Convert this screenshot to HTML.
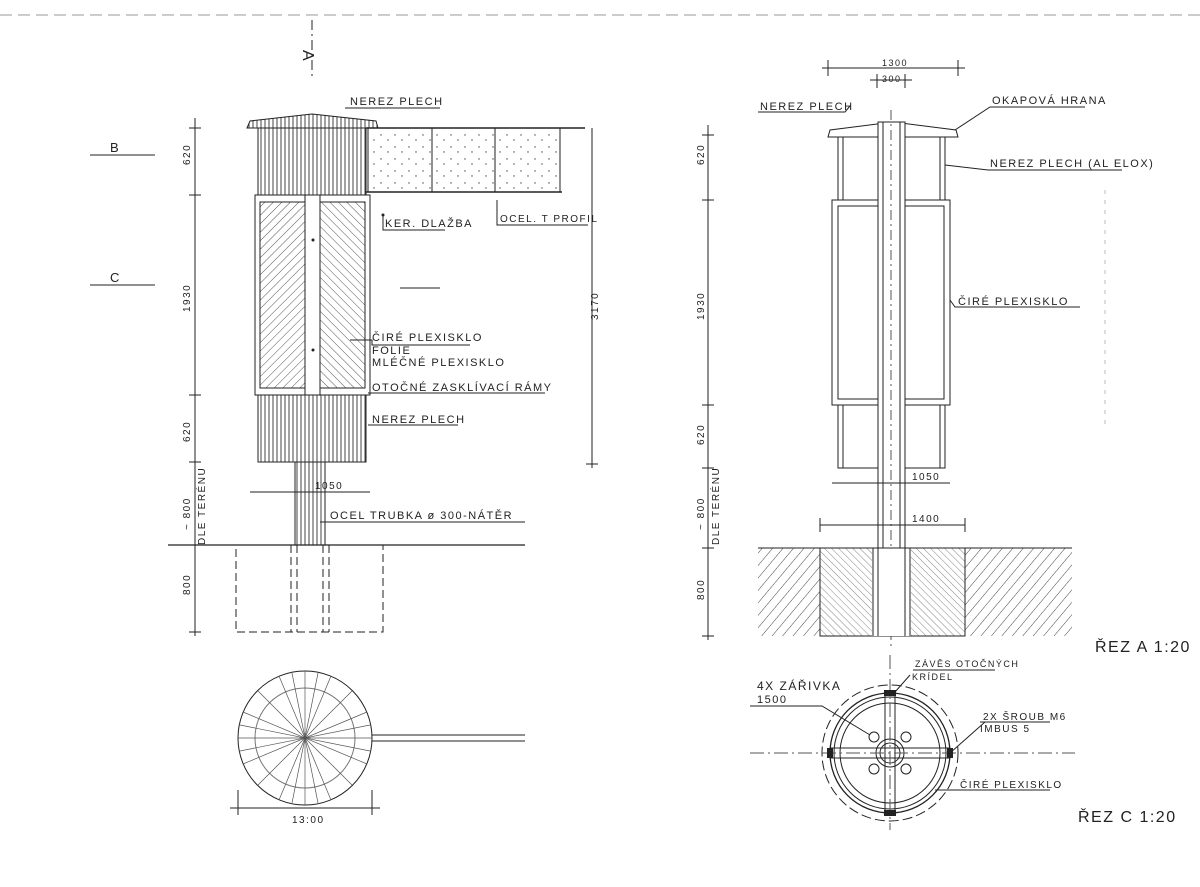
<!DOCTYPE html>
<html><head><meta charset="utf-8"><style>
html,body{margin:0;padding:0;background:#fff;}
svg{display:block;font-size:11px;}
text{font-family:"Liberation Sans",sans-serif;fill:#222;letter-spacing:1.5px;}
</style></head><body>
<svg width="1200" height="887" viewBox="0 0 1200 887" xmlns="http://www.w3.org/2000/svg">
<defs>
<pattern id="vert" width="4" height="10" patternUnits="userSpaceOnUse"><rect width="4" height="10" fill="#fff"/><line x1="1" y1="0" x2="1" y2="10" stroke="#444" stroke-width="1"/></pattern>
<pattern id="diag1" width="6" height="6" patternUnits="userSpaceOnUse" patternTransform="rotate(45)"><rect width="6" height="6" fill="#fff"/><line x1="0" y1="0" x2="0" y2="6" stroke="#555" stroke-width="1"/></pattern>
<pattern id="diag2" width="6" height="6" patternUnits="userSpaceOnUse" patternTransform="rotate(-45)"><rect width="6" height="6" fill="#fff"/><line x1="0" y1="0" x2="0" y2="6" stroke="#555" stroke-width="1"/></pattern>
<pattern id="soil" width="8" height="8" patternUnits="userSpaceOnUse" patternTransform="rotate(40)"><rect width="8" height="8" fill="#fff"/><line x1="0" y1="0" x2="0" y2="8" stroke="#444" stroke-width="1"/></pattern>
<pattern id="conc" width="5" height="5" patternUnits="userSpaceOnUse" patternTransform="rotate(-45)"><rect width="5" height="5" fill="#fff"/><line x1="0" y1="0" x2="0" y2="5" stroke="#666" stroke-width="0.8"/></pattern>
<pattern id="dots" width="14" height="12" patternUnits="userSpaceOnUse"><rect width="14" height="12" fill="#fff"/><circle cx="3" cy="3" r="0.7" fill="#444"/><circle cx="10" cy="8" r="0.7" fill="#444"/></pattern>
</defs>
<g stroke="#222" fill="none" stroke-width="1">
<line x1="0" y1="15" x2="1200" y2="15" stroke="#999" stroke-dasharray="12,6"/>
<line x1="312" y1="20" x2="312" y2="80" stroke-dasharray="10,4,2,4"/>

<path d="M247 128 L250 121 L312 114 L376 121 L378 128 Z" fill="url(#vert)"/>
<rect x="258" y="128" width="108" height="67" fill="url(#vert)"/>
<rect x="255" y="195" width="115" height="200" fill="#fff"/>
<rect x="260" y="202" width="45" height="186" fill="url(#diag1)"/>
<rect x="320" y="202" width="45" height="186" fill="url(#diag2)"/>
<line x1="305" y1="195" x2="305" y2="395"/><line x1="320" y1="195" x2="320" y2="395"/>
<rect x="258" y="395" width="108" height="67" fill="url(#vert)"/>
<rect x="295" y="462" width="30" height="83" fill="url(#vert)"/>
<rect x="368" y="128" width="192" height="64" fill="url(#dots)"/>
<line x1="432" y1="128" x2="432" y2="192"/><line x1="495" y1="128" x2="495" y2="192"/>
<line x1="366" y1="128" x2="585" y2="128" stroke-width="1.5"/>
<line x1="366" y1="192" x2="562" y2="192" stroke-width="1.5"/>
<line x1="168" y1="545" x2="525" y2="545" stroke-width="1.2"/>
<rect x="236" y="545" width="147" height="87" stroke-dasharray="8,4"/>
<line x1="291" y1="545" x2="291" y2="632" stroke-dasharray="8,4"/><line x1="329" y1="545" x2="329" y2="632" stroke-dasharray="8,4"/>
<line x1="297" y1="545" x2="297" y2="632" stroke-dasharray="8,4"/><line x1="323" y1="545" x2="323" y2="632" stroke-dasharray="8,4"/>
<line x1="195" y1="118" x2="195" y2="636"/>
<g><line x1="189" y1="128" x2="201" y2="128"/><line x1="189" y1="195" x2="201" y2="195"/><line x1="189" y1="395" x2="201" y2="395"/><line x1="189" y1="462" x2="201" y2="462"/><line x1="189" y1="545" x2="201" y2="545"/><line x1="189" y1="632" x2="201" y2="632"/></g>
<line x1="592" y1="128" x2="592" y2="468"/><line x1="586" y1="464" x2="598" y2="464"/>
<line x1="90" y1="155" x2="155" y2="155"/><line x1="90" y1="285" x2="155" y2="285"/>
<line x1="400" y1="288" x2="440" y2="288"/>
<line x1="250" y1="492" x2="370" y2="492"/>
<path d="M345 108 L440 108"/><path d="M383 215 L383 230 L445 230"/><path d="M497 200 L497 225 L588 225"/>
<path d="M350 340 L372 340 L372 345 L470 345"/><path d="M368 393 L545 393"/><path d="M368 425 L458 425"/><path d="M320 522 L525 522"/>
<circle cx="305" cy="738" r="67" fill="#fff"/>
<circle cx="305" cy="738" r="50" stroke="#777"/>
<g stroke="#555" stroke-width="0.7">
<line x1="238" y1="738" x2="372" y2="738"/><line x1="305" y1="671" x2="305" y2="805"/>
<line x1="258" y1="691" x2="352" y2="785"/><line x1="352" y1="691" x2="258" y2="785"/>
<line x1="243" y1="712" x2="367" y2="764"/><line x1="243" y1="764" x2="367" y2="712"/>
<line x1="279" y1="676" x2="331" y2="800"/><line x1="331" y1="676" x2="279" y2="800"/>
<line x1="240" y1="725" x2="370" y2="751"/><line x1="240" y1="751" x2="370" y2="725"/>
<line x1="292" y1="673" x2="318" y2="803"/><line x1="318" y1="673" x2="292" y2="803"/>
</g>
<line x1="372" y1="735" x2="525" y2="735"/><line x1="372" y1="741" x2="525" y2="741"/>
<line x1="230" y1="808" x2="380" y2="808"/><line x1="238" y1="790" x2="238" y2="815"/><line x1="372" y1="790" x2="372" y2="815"/>

<path d="M828 137 L830 130 L893 122 L956 130 L958 137 Z" fill="#fff"/>
<rect x="838" y="137" width="107" height="63"/>
<rect x="843" y="137" width="97" height="63"/>
<rect x="832" y="200" width="118" height="205"/>
<rect x="838" y="206" width="106" height="193"/>
<rect x="838" y="405" width="107" height="63"/>
<rect x="843" y="405" width="97" height="63"/>
<rect x="878" y="122" width="27" height="514" fill="#fff"/>
<line x1="883" y1="122" x2="883" y2="636"/><line x1="900" y1="122" x2="900" y2="636"/>
<line x1="891" y1="110" x2="891" y2="650" stroke-dasharray="10,4,2,4" stroke="#555"/>
<rect x="758" y="548" width="314" height="88" fill="url(#soil)" stroke="none"/>
<rect x="820" y="548" width="145" height="88" fill="url(#conc)"/>
<rect x="872" y="548" width="39" height="88" fill="#fff" stroke="none"/>
<line x1="873" y1="548" x2="873" y2="636"/><line x1="910" y1="548" x2="910" y2="636"/>
<line x1="878" y1="548" x2="878" y2="636"/><line x1="905" y1="548" x2="905" y2="636"/>
<line x1="758" y1="548" x2="1072" y2="548"/>
<line x1="708" y1="125" x2="708" y2="640"/>
<g><line x1="702" y1="135" x2="714" y2="135"/><line x1="702" y1="200" x2="714" y2="200"/><line x1="702" y1="405" x2="714" y2="405"/><line x1="702" y1="468" x2="714" y2="468"/><line x1="702" y1="548" x2="714" y2="548"/><line x1="702" y1="636" x2="714" y2="636"/></g>
<line x1="822" y1="68" x2="965" y2="68"/><line x1="828" y1="60" x2="828" y2="76"/><line x1="958" y1="60" x2="958" y2="76"/>
<line x1="870" y1="80" x2="912" y2="80"/><line x1="877" y1="74" x2="877" y2="88"/><line x1="905" y1="74" x2="905" y2="88"/>
<line x1="832" y1="483" x2="950" y2="483"/><line x1="820" y1="525" x2="965" y2="525"/>
<line x1="820" y1="518" x2="820" y2="532"/><line x1="965" y1="518" x2="965" y2="532"/>
<path d="M758 112 L845 112 L850 106"/><path d="M955 130 L990 107 L1085 107"/><path d="M945 165 L988 170 L1122 170"/><path d="M950 300 L955 307 L1080 307"/>
<line x1="1105" y1="190" x2="1105" y2="430" stroke-dasharray="4,6" stroke="#bbb"/>
<circle cx="890" cy="753" r="68" stroke-dasharray="10,4"/>
<circle cx="890" cy="753" r="60" stroke-width="1.3"/>
<circle cx="890" cy="753" r="56"/>
<circle cx="890" cy="753" r="50"/>
<circle cx="890" cy="753" r="14"/><circle cx="890" cy="753" r="10"/>
<circle cx="874" cy="737" r="5"/><circle cx="906" cy="737" r="5"/><circle cx="874" cy="769" r="5"/><circle cx="906" cy="769" r="5"/>
<line x1="885" y1="693" x2="885" y2="813"/><line x1="895" y1="693" x2="895" y2="813"/>
<line x1="830" y1="748" x2="950" y2="748"/><line x1="830" y1="758" x2="950" y2="758"/>
<line x1="750" y1="753" x2="1075" y2="753" stroke-dasharray="14,4,2,4" stroke="#555"/>
<line x1="890" y1="655" x2="890" y2="830" stroke-dasharray="14,4,2,4" stroke="#555"/>
<path d="M750 706 L822 706 L870 735"/><path d="M913 670 L995 670"/><path d="M895 692 L910 675"/>
<path d="M980 722 L1050 722"/><path d="M950 753 L985 722"/><path d="M935 790 L962 790 L1050 790"/>
</g>
<g fill="#222" stroke="none">
<rect x="884" y="690" width="12" height="6"/><rect x="884" y="810" width="12" height="6"/><rect x="827" y="748" width="6" height="10"/><rect x="947" y="748" width="6" height="10"/>
<circle cx="313" cy="240" r="1.5"/><circle cx="313" cy="350" r="1.5"/><circle cx="383" cy="215" r="1.5"/>
</g>
<text x="350" y="105">NEREZ PLECH</text>
<text x="110" y="152" font-size="13">B</text><text x="110" y="282" font-size="13">C</text>
<text x="385" y="227">KER. DLAŽBA</text>
<text x="500" y="222" font-size="10">OCEL. T PROFIL</text>
<text x="372" y="341">ČIRÉ PLEXISKLO</text>
<text x="372" y="354">FOLIE</text>
<text x="372" y="366">MLÉČNÉ PLEXISKLO</text>
<text x="372" y="391">OTOČNÉ ZASKLÍVACÍ RÁMY</text>
<text x="372" y="423">NEREZ PLECH</text>
<text x="330" y="519">OCEL TRUBKA ø 300-NÁTĚR</text>
<text x="315" y="489" font-size="10">1050</text>
<text x="292" y="823" font-size="10">13:00</text>
<g font-size="10">
<text transform="translate(190,165) rotate(-90)">620</text>
<text transform="translate(190,312) rotate(-90)">1930</text>
<text transform="translate(190,442) rotate(-90)">620</text>
<text transform="translate(190,530) rotate(-90)">~ 800</text>
<text transform="translate(205,545) rotate(-90)">DLE TERÉNU</text>
<text transform="translate(190,595) rotate(-90)">800</text>
<text transform="translate(598,320) rotate(-90)">3170</text>
<text transform="translate(704,165) rotate(-90)">620</text>
<text transform="translate(704,320) rotate(-90)">1930</text>
<text transform="translate(704,445) rotate(-90)">620</text>
<text transform="translate(704,530) rotate(-90)">~ 800</text>
<text transform="translate(719,545) rotate(-90)">DLE TERÉNU</text>
<text transform="translate(704,600) rotate(-90)">800</text>
</g>
<text transform="translate(303,50) rotate(90)" font-size="16">A</text>
<text x="882" y="66" font-size="9">1300</text><text x="882" y="82" font-size="9">300</text>
<text x="760" y="110">NEREZ PLECH</text>
<text x="992" y="104">OKAPOVÁ HRANA</text>
<text x="990" y="167">NEREZ PLECH (AL ELOX)</text>
<text x="958" y="305">ČIRÉ PLEXISKLO</text>
<text x="912" y="480" font-size="10">1050</text>
<text x="912" y="522" font-size="10">1400</text>
<text x="1095" y="652" font-size="16">ŘEZ A 1:20</text>
<text x="1078" y="822" font-size="16">ŘEZ C 1:20</text>
<text x="915" y="667" font-size="9">ZÁVĚS OTOČNÝCH</text>
<text x="912" y="680" font-size="9">KRÍDEL</text>
<text x="757" y="690" font-size="12">4X ZÁŘIVKA</text>
<text x="757" y="703" font-size="11">1500</text>
<text x="983" y="720" font-size="10">2X ŠROUB M6</text>
<text x="980" y="732" font-size="10">IMBUS 5</text>
<text x="960" y="788" font-size="10">ČIRÉ PLEXISKLO</text>
</svg>
</body></html>
